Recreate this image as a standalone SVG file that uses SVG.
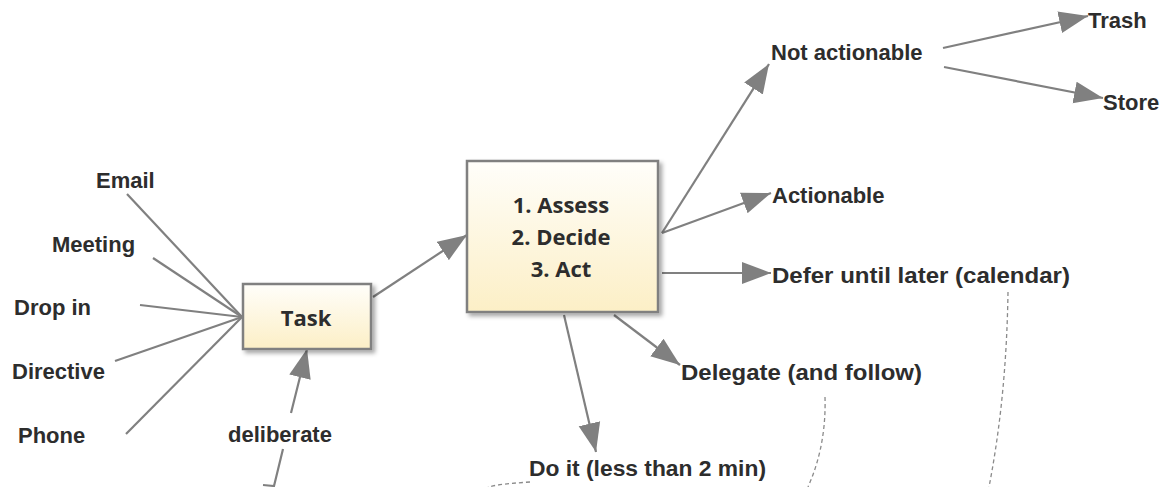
<svg xmlns="http://www.w3.org/2000/svg" width="1173" height="487" viewBox="0 0 1173 487">
  <defs>
    <linearGradient id="boxFill" x1="0" y1="0" x2="0" y2="1">
      <stop offset="0" stop-color="#fffefa"/>
      <stop offset="1" stop-color="#fcefc6"/>
    </linearGradient>
    <filter id="shadow" x="-10%" y="-10%" width="125%" height="130%">
      <feDropShadow dx="3" dy="3" stdDeviation="2" flood-color="#000" flood-opacity="0.35"/>
    </filter>
    <marker id="arrow" markerUnits="userSpaceOnUse" markerWidth="30" markerHeight="24" viewBox="0 0 30 24" refX="29" refY="12" orient="auto">
      <path d="M0,1 L29,12 L0,23 Z" fill="#808080"/>
    </marker>
  </defs>
  <style>
    .lbl { font-family: "Liberation Sans", Arial, sans-serif; font-weight: bold; font-size: 22px; fill: #2d2d2d; }
    .boxtxt { font-family: "Open Sans", "Liberation Sans", sans-serif; font-weight: bold; font-size: 22px; fill: #2d2d2d; text-anchor: middle; }
    .box { fill: url(#boxFill); stroke: #808080; stroke-width: 2.5; filter: url(#shadow); }
    .edge { stroke: #808080; stroke-width: 2.2; fill: none; }
    .arr { stroke: #808080; stroke-width: 2.2; fill: none; marker-end: url(#arrow); }
    .dash { stroke: #8a8a8a; stroke-width: 1.3; fill: none; stroke-dasharray: 4 3; }
  </style>
  <rect width="1173" height="487" fill="#ffffff"/>

  <!-- connectors -->
  <g id="connectors">
    <!-- sources feeding the task -->
    <line class="edge" x1="127" y1="194" x2="242" y2="317"/>
    <line class="edge" x1="153" y1="258" x2="242" y2="317"/>
    <line class="edge" x1="140" y1="305" x2="242" y2="317"/>
    <line class="edge" x1="115" y1="361" x2="242" y2="317"/>
    <line class="edge" x1="126" y1="434" x2="242" y2="317"/>
    <!-- deliberate -->
    <path class="edge" d="M263,485 L274,486 L283,449"/>
    <line class="arr" x1="291" y1="413" x2="307" y2="349"/>
    <!-- task to process -->
    <line class="arr" x1="373" y1="297" x2="467" y2="235"/>
    <!-- outcomes -->
    <line class="arr" x1="662" y1="233" x2="769" y2="64"/>
    <line class="arr" x1="662" y1="233" x2="771" y2="193"/>
    <line class="arr" x1="662" y1="273" x2="771" y2="273"/>
    <line class="arr" x1="614" y1="315" x2="680" y2="365"/>
    <line class="arr" x1="564" y1="315" x2="596" y2="452"/>
    <line class="arr" x1="943" y1="48" x2="1088" y2="16"/>
    <line class="arr" x1="944" y1="67" x2="1103" y2="98"/>
    <!-- follow-up traces -->
    <path class="dash" d="M1008,292 C1007,360 1001,425 989,487"/>
    <path class="dash" d="M825,397 C826,430 820,460 808,487"/>
    <path class="dash" d="M530,482 C515,483 500,484 488,487"/>
  </g>

  <!-- source nodes -->
  <g id="n-email"><text class="lbl" x="96" y="188">Email</text></g>
  <g id="n-meeting"><text class="lbl" x="52" y="252">Meeting</text></g>
  <g id="n-dropin"><text class="lbl" x="14" y="315">Drop in</text></g>
  <g id="n-directive"><text class="lbl" x="12" y="379">Directive</text></g>
  <g id="n-phone"><text class="lbl" x="18" y="443">Phone</text></g>
  <g id="n-deliberate"><text class="lbl" x="228" y="442">deliberate</text></g>

  <!-- task -->
  <g id="n-task">
    <rect class="box" x="243" y="284" width="128" height="65"/>
    <text class="boxtxt" x="306" y="326">Task</text>
  </g>

  <!-- process -->
  <g id="n-process">
    <rect class="box" x="467" y="161" width="191" height="151"/>
    <text class="boxtxt" x="561" y="213">1. Assess</text>
    <text class="boxtxt" x="561" y="245">2. Decide</text>
    <text class="boxtxt" x="561" y="277">3. Act</text>
  </g>

  <!-- outcomes -->
  <g id="n-notactionable"><text class="lbl" x="771" y="60">Not actionable</text></g>
  <g id="n-trash"><text class="lbl" x="1088" y="28">Trash</text></g>
  <g id="n-store"><text class="lbl" x="1103" y="110">Store</text></g>
  <g id="n-actionable"><text class="lbl" x="772" y="203">Actionable</text></g>
  <g id="n-defer"><text class="lbl" x="772" y="283" textLength="298" lengthAdjust="spacingAndGlyphs">Defer until later (calendar)</text></g>
  <g id="n-delegate"><text class="lbl" x="681" y="380" textLength="241" lengthAdjust="spacingAndGlyphs">Delegate (and follow)</text></g>
  <g id="n-doit"><text class="lbl" x="529" y="476" textLength="237" lengthAdjust="spacingAndGlyphs">Do it (less than 2 min)</text></g>
</svg>
